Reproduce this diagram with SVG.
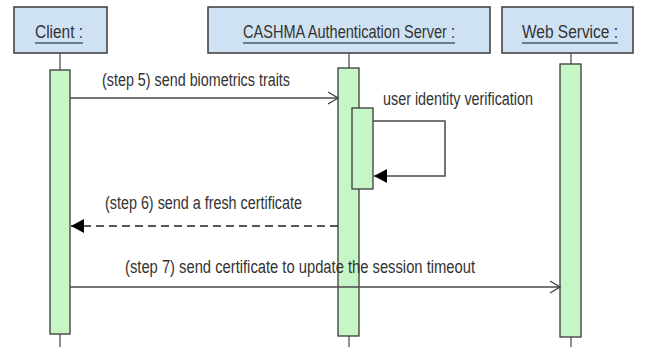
<svg xmlns="http://www.w3.org/2000/svg" width="646" height="347" viewBox="0 0 646 347">
  <style>
    .head { fill: #cfe2f3; stroke: #3a3a3a; stroke-width: 1.5; }
    .life { stroke: #444; stroke-width: 1.2; fill: none; }
    .bar { fill: #c6f5c6; stroke: #3a3a3a; stroke-width: 1.3; }
    .msg { stroke: #4a4a4a; stroke-width: 1.5; fill: none; }
    .dash { stroke-dasharray: 8 5; stroke: #222; }
    .t { font-family: "Liberation Sans", Arial, sans-serif; font-size: 18px; fill: #333; }
    .u { stroke: #4a5a70; stroke-width: 1.4; }
  </style>
  <defs>
    <marker id="open" markerWidth="12" markerHeight="14" refX="11" refY="7" orient="auto" markerUnits="userSpaceOnUse">
      <path d="M1,1 L11,7 L1,13" fill="none" stroke="#444" stroke-width="1.3"/>
    </marker>
    <marker id="filled" markerWidth="14" markerHeight="14" refX="13" refY="7" orient="auto" markerUnits="userSpaceOnUse">
      <path d="M0,0 L13,7 L0,14 Z" fill="#000"/>
    </marker>
  </defs>

  <!-- participant: Client -->
  <g id="client">
    <rect class="head" x="14" y="7" width="93" height="46"/>
    <text class="t" x="35" y="38" textLength="48" lengthAdjust="spacingAndGlyphs">Client :</text>
    <line class="u" x1="35" y1="43" x2="83" y2="43"/>
    <line class="life" x1="60" y1="53" x2="60" y2="70"/>
    <line class="life" x1="60" y1="334" x2="60" y2="347"/>
    <rect class="bar" x="50" y="70" width="20" height="264"/>
  </g>

  <!-- participant: CASHMA Authentication Server -->
  <g id="server">
    <rect class="head" x="208" y="7" width="282" height="46"/>
    <text class="t" x="243" y="38" textLength="212" lengthAdjust="spacingAndGlyphs">CASHMA Authentication Server :</text>
    <line class="u" x1="243" y1="43" x2="455" y2="43"/>
    <line class="life" x1="349" y1="53" x2="349" y2="68"/>
    <line class="life" x1="349" y1="336" x2="349" y2="347"/>
    <rect class="bar" x="338" y="68" width="21" height="268"/>
    <rect id="server-self" class="bar" x="352" y="108" width="21" height="81"/>
  </g>

  <!-- participant: Web Service -->
  <g id="webservice">
    <rect class="head" x="502" y="7" width="131" height="46"/>
    <text class="t" x="522" y="38" textLength="96" lengthAdjust="spacingAndGlyphs">Web Service :</text>
    <line class="u" x1="522" y1="43" x2="618" y2="43"/>
    <line class="life" x1="571" y1="53" x2="571" y2="64"/>
    <line class="life" x1="571" y1="337" x2="571" y2="347"/>
    <rect class="bar" x="560" y="64" width="21" height="273"/>
  </g>

  <!-- messages -->
  <g id="messages">
    <line class="msg" x1="70" y1="98" x2="338" y2="98" marker-end="url(#open)"/>
    <text class="t" x="102" y="86" textLength="188" lengthAdjust="spacingAndGlyphs">(step 5) send biometrics traits</text>

    <polyline class="msg" points="373,121 445,121 445,176 374,176" marker-end="url(#filled)"/>
    <text class="t" x="383" y="105" textLength="150" lengthAdjust="spacingAndGlyphs">user identity verification</text>

    <line class="msg dash" x1="338" y1="226" x2="71" y2="226" marker-end="url(#filled)"/>
    <text class="t" x="105" y="209" textLength="197" lengthAdjust="spacingAndGlyphs">(step 6) send a fresh certificate</text>

    <line class="msg" x1="70" y1="287" x2="560" y2="287" marker-end="url(#open)"/>
    <text class="t" x="125" y="273" textLength="350" lengthAdjust="spacingAndGlyphs">(step 7) send certificate to update the session timeout</text>
  </g>
</svg>
